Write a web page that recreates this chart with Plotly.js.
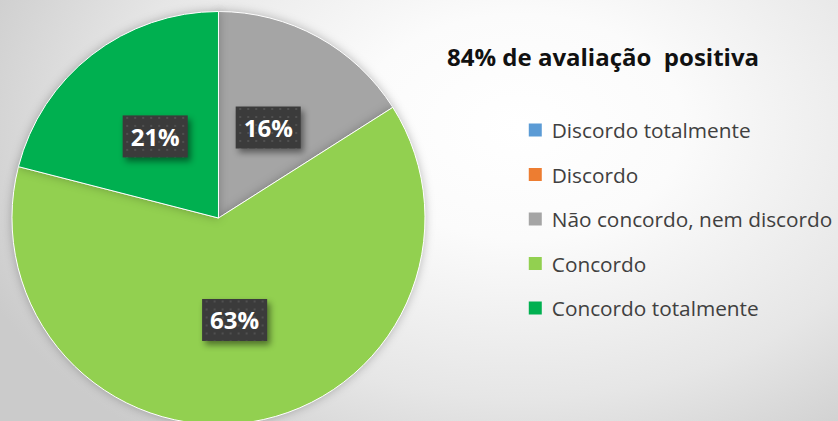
<!DOCTYPE html>
<html><head><meta charset="utf-8">
<script src="https://cdn.plot.ly/plotly-3.0.1.min.js"></script>
<style>
html,body{margin:0;padding:0;width:838px;height:421px;overflow:hidden;
background:radial-gradient(ellipse 70% 95% at 62% 30%, #ffffff 0%, #fbfbfb 28%, #e6e6e6 68%, #cbcbcb 100%);}
#chart{width:838px;height:440px;}
.pielayer .trace path.surface{filter:drop-shadow(0 0 5px rgba(0,0,0,0.25));}
</style></head>
<body><div id="chart"></div>
<script>
const categories = ["Discordo totalmente","Discordo","Não concordo, nem discordo","Concordo","Concordo totalmente"];
const values = [0, 0, 16, 63, 21];
const colors = ["#5B9BD5","#ED7D31","#A5A5A5","#92D050","#00B050"];
const subtitle = "84% de avaliação&nbsp; positiva";

const FONT = "'Open Sans', Lato, sans-serif";
const trace = {
  type: "pie", labels: categories, values: values, sort: false,
  direction: "clockwise", rotation: 0,
  marker: {colors: colors, line: {color: "#ffffff", width: 1}},
  texttemplate: "%{percent:.0%}", textposition: "inside",
  insidetextorientation: "horizontal",
  textfont: {family: FONT, size: 24, color: "#ffffff", weight: "bold"},
  domain: {x: [12/838, 426/838], y: [15/440, 429/440]},
  hoverinfo: "none"
};
const layout = {
  width: 838, height: 440, margin: {l:0,r:0,t:0,b:0},
  paper_bgcolor: "rgba(0,0,0,0)", plot_bgcolor: "rgba(0,0,0,0)",
  showlegend: true,
  legend: {x: 513/838, y: 1-110/440, xanchor: "left", yanchor: "top",
    font: {family: FONT, size: 20.8, color: "#404040"},
    bgcolor: "rgba(0,0,0,0)", traceorder: "normal"},
  annotations: [{text: "<b>" + subtitle + "</b>", xref: "paper", yref: "paper",
    x: 604/838, y: 1-57/440, xanchor: "center", yanchor: "middle", showarrow: false,
    font: {family: FONT, size: 24, color: "#111111"}}]
};

function decorate(gd){
  const svg = gd.querySelector("svg.main-svg");
  const ns = "http://www.w3.org/2000/svg";
  if (!svg.querySelector("#dotpat")) {
    let defs = svg.querySelector("defs");
    const pat = document.createElementNS(ns, "pattern");
    pat.setAttribute("id","dotpat"); pat.setAttribute("width","8"); pat.setAttribute("height","8");
    pat.setAttribute("patternUnits","userSpaceOnUse");
    const bgr = document.createElementNS(ns,"rect");
    bgr.setAttribute("width","8"); bgr.setAttribute("height","8"); bgr.setAttribute("fill","#3b3b3b");
    const dot = document.createElementNS(ns,"rect");
    dot.setAttribute("x","3"); dot.setAttribute("y","3"); dot.setAttribute("width","2"); dot.setAttribute("height","2"); dot.setAttribute("fill","#505050");
    pat.appendChild(bgr); pat.appendChild(dot); defs.appendChild(pat);
  }
  const cd0 = gd.calcdata[0][0];
  const fs = gd._fullLayout._size;
  const cx = (cd0.cx !== undefined) ? cd0.cx : fs.l + fs.w * (trace.domain.x[0]+trace.domain.x[1])/2;
  const cy = (cd0.cy !== undefined) ? cd0.cy : fs.t + fs.h * (1-(trace.domain.y[0]+trace.domain.y[1])/2);
  const R = (cd0.r !== undefined) ? cd0.r : 207;
  const total = values.reduce((a,b)=>a+b,0);
  let cum = 0; const mids = {};
  values.forEach(function(v,i){ mids[i] = (cum + v/2)/total * 2*Math.PI; cum += v; });
  gd.querySelectorAll(".pielayer g.slice").forEach(function(sl){
    const d = sl.__data__; const t = sl.querySelector("g.slicetext text");
    if (!t || !d || t.getAttribute("data-done")) return;
    const a = mids[d.i];
    const tx = cx + 0.5*R*Math.sin(a), ty = cy - 0.5*R*Math.cos(a);
    const bb = t.getBBox();
    const tr = "translate(" + (tx - (bb.x+bb.width/2)) + "," + (ty - (bb.y+bb.height/2)) + ")";
    t.setAttribute("transform", tr);
    t.setAttribute("data-done", "1");
    const r = document.createElementNS(ns,"rect");
    r.setAttribute("x", bb.x - 8); r.setAttribute("y", bb.y + bb.height/2 - 21);
    r.setAttribute("width", bb.width + 16); r.setAttribute("height", 42);
    r.setAttribute("fill","url(#dotpat)");
    r.setAttribute("style","filter:drop-shadow(3px 4px 3px rgba(0,0,0,0.45))");
    r.setAttribute("transform", tr);
    t.parentNode.insertBefore(r, t);
  });
  const sb = gd.querySelector(".legend .scrollbox");
  if (sb) sb.removeAttribute("clip-path");
  gd.querySelectorAll(".legend .traces").forEach(function(g, i){
    const m = /translate\(([^,]+),\s*([^\)]+)\)/.exec(g.getAttribute("transform")||"");
    const x = m ? parseFloat(m[1]) : 0;
    g.setAttribute("transform", "translate(" + x + "," + (20 + i*44.5) + ")");
    if (g.querySelector("rect.mysym")) return;
    const lp = g.querySelector(".legendpoints");
    let fill = colors[i];
    const p = lp ? lp.querySelector("path") : null;
    if (p) { const f = p.style.fill || p.getAttribute("fill"); if (f) fill = f; }
    if (lp) lp.style.display = "none";
    const txt = g.querySelector("text.legendtext");
    const tx0 = txt ? parseFloat(txt.getAttribute("x") || 40) : 40;
    const r = document.createElementNS(ns,"rect");
    r.setAttribute("class","mysym");
    r.setAttribute("x", tx0 - 23); r.setAttribute("y", -6.5);
    r.setAttribute("width", 13); r.setAttribute("height", 13);
    r.setAttribute("fill", fill);
    g.appendChild(r);
  });
}
Plotly.newPlot("chart", [trace], layout, {staticPlot: true}).then(function(gd){
  decorate(gd);
  gd.on("plotly_afterplot", function(){ decorate(gd); });
  setTimeout(function(){ decorate(gd); }, 50);
});
</script></body></html>
